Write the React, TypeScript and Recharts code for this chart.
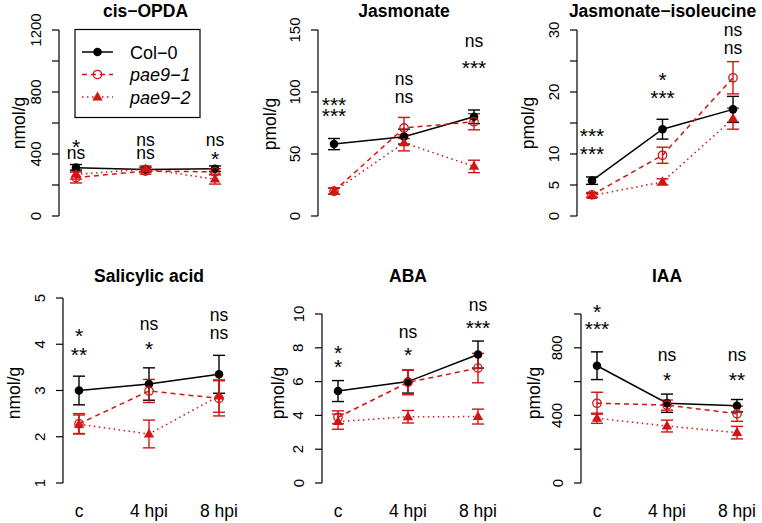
import React from 'react';
import { LineChart, Line, XAxis, YAxis, ErrorBar, ReferenceDot, Customized } from 'recharts';

const FONT = "'Liberation Sans', Arial, Helvetica, sans-serif";
const RED = '#D11414';

const times = ['c', '4 hpi', '8 hpi'];
const genotypes = ['Col−0', 'pae9−1', 'pae9−2'];

// cis-OPDA, nmol/g
const opdaCol = [312, 300, 305];
const opdaColErr = [20, 15, 18];
const opdaP1 = [248, 290, 285];
const opdaP1Err = [35, 20, 20];
const opdaP2 = [268, 303, 238];
const opdaP2Err = [30, 20, 32];
const opdaTicks = [0, 200, 400, 600, 800, 1000, 1200];
const opdaTickLabels = [0, 400, 800, 1200];
const opdaSigTop = ['*', 'ns', 'ns'];
const opdaSigTopY = [479, 479, 479];
const opdaSigBot = ['ns', 'ns', '*'];
const opdaSigBotY = [398, 398, 398];

// Jasmonate, pmol/g
const jaCol = [58, 64, 80];
const jaColErr = [4.5, 6, 5.5];
const jaP1 = [20, 71, 76];
const jaP1Err = [2.5, 8.5, 6.5];
const jaP2 = [20, 59, 40];
const jaP2Err = [2.5, 6.5, 5];
const jaTicks = [0, 50, 100, 150];
const jaSigTop = ['***', 'ns', 'ns'];
const jaSigTopY = [94, 109.7, 139.8];
const jaSigBot = ['***', 'ns', '***'];
const jaSigBotY = [84.7, 94.6, 123.6];

// Jasmonate-isoleucine, pmol/g
const ileCol = [5.7, 14.0, 17.2];
const ileColErr = [0.6, 1.6, 2.1];
const ileP1 = [3.4, 9.8, 22.3];
const ileP1Err = [0.4, 1.3, 2.6];
const ileP2 = [3.3, 5.5, 15.7];
const ileP2Err = [0.3, 0.5, 1.7];
const ileTicks = [0, 5, 10, 15, 20, 25, 30];
const ileTickLabels = [0, 5, 10, 20, 30];
const ileSigTop = ['***', '*', 'ns'];
const ileSigTopY = [13.8, 22.7, 29.8];
const ileSigBot = ['***', '***', 'ns'];
const ileSigBotY = [10.8, 19.9, 26.9];

// Salicylic acid, nmol/g
const saCol = [3.0, 3.14, 3.35];
const saColErr = [0.31, 0.35, 0.41];
const saP1 = [2.28, 2.99, 2.83];
const saP1Err = [0.22, 0.25, 0.38];
const saP2 = [2.27, 2.06, 2.88];
const saP2Err = [0.2, 0.3, 0.35];
const saTicks = [1, 2, 3, 4, 5];
const saSigTop = ['*', 'ns', 'ns'];
const saSigTopY = [4.29, 4.4, 4.61];
const saSigBot = ['**', '*', 'ns'];
const saSigBotY = [3.89, 4.0, 4.22];

// ABA, pmol/g
const abaCol = [5.44, 6.0, 7.6];
const abaColErr = [0.62, 0.68, 0.8];
const abaP1 = [3.89, 5.95, 6.8];
const abaP1Err = [0.38, 0.73, 0.87];
const abaP2 = [3.63, 3.92, 3.93];
const abaP2Err = [0.45, 0.37, 0.44];
const abaTicks = [0, 2, 4, 6, 8, 10];
const abaSigTop = ['*', 'ns', 'ns'];
const abaSigTopY = [7.97, 8.82, 10.43];
const abaSigBot = ['*', '*', '***'];
const abaSigBotY = [7.18, 7.87, 9.45];

// IAA, pmol/g
const iaaCol = [694, 472, 457];
const iaaColErr = [82, 54, 37];
const iaaP1 = [472, 461, 410];
const iaaP1Err = [65, 30, 45];
const iaaP2 = [383, 337, 298];
const iaaP2Err = [30, 35, 37];
const iaaTicks = [0, 200, 400, 600, 800, 1000];
const iaaTickLabels = [0, 400, 800];
const iaaSigTop = ['*', 'ns', 'ns'];
const iaaSigTopY = [1043, 747, 747];
const iaaSigBot = ['***', '*', '**'];
const iaaSigBotY = [941, 639, 639];

const panels = [
  { title: 'cis−OPDA', unit: 'nmol/g', col: opdaCol, colErr: opdaColErr, p1: opdaP1, p1Err: opdaP1Err, p2: opdaP2, p2Err: opdaP2Err, ticks: opdaTicks, tickLabels: opdaTickLabels, sigTop: opdaSigTop, sigTopY: opdaSigTopY, sigBot: opdaSigBot, sigBotY: opdaSigBotY },
  { title: 'Jasmonate', unit: 'pmol/g', col: jaCol, colErr: jaColErr, p1: jaP1, p1Err: jaP1Err, p2: jaP2, p2Err: jaP2Err, ticks: jaTicks, tickLabels: jaTicks, sigTop: jaSigTop, sigTopY: jaSigTopY, sigBot: jaSigBot, sigBotY: jaSigBotY },
  { title: 'Jasmonate−isoleucine', unit: 'pmol/g', col: ileCol, colErr: ileColErr, p1: ileP1, p1Err: ileP1Err, p2: ileP2, p2Err: ileP2Err, ticks: ileTicks, tickLabels: ileTickLabels, sigTop: ileSigTop, sigTopY: ileSigTopY, sigBot: ileSigBot, sigBotY: ileSigBotY },
  { title: 'Salicylic acid', unit: 'nmol/g', col: saCol, colErr: saColErr, p1: saP1, p1Err: saP1Err, p2: saP2, p2Err: saP2Err, ticks: saTicks, tickLabels: saTicks, sigTop: saSigTop, sigTopY: saSigTopY, sigBot: saSigBot, sigBotY: saSigBotY },
  { title: 'ABA', unit: 'pmol/g', col: abaCol, colErr: abaColErr, p1: abaP1, p1Err: abaP1Err, p2: abaP2, p2Err: abaP2Err, ticks: abaTicks, tickLabels: abaTicks, sigTop: abaSigTop, sigTopY: abaSigTopY, sigBot: abaSigBot, sigBotY: abaSigBotY },
  { title: 'IAA', unit: 'pmol/g', col: iaaCol, colErr: iaaColErr, p1: iaaP1, p1Err: iaaP1Err, p2: iaaP2, p2Err: iaaP2Err, ticks: iaaTicks, tickLabels: iaaTickLabels, sigTop: iaaSigTop, sigTopY: iaaSigTopY, sigBot: iaaSigBot, sigBotY: iaaSigBotY },
];

// page geometry of each panel (absolute px)
const layouts = [
  { x0: 0, y0: 0, h: 260, axisX: 59, pad: 17, right: 232, top: 30, bottom: 216, ylab: [19, 123], titleY: 16.5 },
  { x0: 254, y0: 0, h: 260, axisX: 318, pad: 16, right: 490, top: 30, bottom: 216, ylab: [270, 124], titleY: 16.5 },
  { x0: 508, y0: 0, h: 260, axisX: 577, pad: 15, right: 748, top: 30, bottom: 216, ylab: [528, 123], titleY: 16.5 },
  { x0: 0, y0: 260, h: 263, axisX: 63, pad: 16, right: 235, top: 298, bottom: 483, ylab: [14, 393], titleY: 281.5 },
  { x0: 254, y0: 260, h: 263, axisX: 322, pad: 16, right: 494, top: 314, bottom: 483, ylab: [278, 393], titleY: 281.5 },
  { x0: 508, y0: 260, h: 263, axisX: 581, pad: 16, right: 753, top: 314, bottom: 483, ylab: [534, 393], titleY: 281.5 },
];
const PANEL_W = 254;

const series = [
  { key: 'col', err: 'colErr', color: '#000', dash: undefined, marker: 'dot' },
  { key: 'p1', err: 'p1Err', color: RED, dash: '5 4', marker: 'ring' },
  { key: 'p2', err: 'p2Err', color: RED, dash: '1.5 3.5', marker: 'tri' },
];

function Marker({ cx, cy, kind, color }: any) {
  if (cx == null || cy == null) return <g />;
  if (kind === 'dot') return <circle cx={cx} cy={cy} r={4.3} fill={color} />;
  if (kind === 'ring') return <circle cx={cx} cy={cy} r={4.2} fill="none" stroke={color} strokeWidth={1.3} />;
  return <path d={`M${cx},${cy - 5.6} L${cx + 5.2},${cy + 3.4} L${cx - 5.2},${cy + 3.4} Z`} fill={color} />;
}

function SigText({ cx, cy, text }: any) {
  const stars = /^\*+$/.test(text);
  const fs = stars ? 21 : 17.5;
  const base = cy + (stars ? 0.58 : 0.26) * fs;
  return (
    <text x={cx} y={base} textAnchor="middle" fontSize={fs} fontFamily={FONT} fill="#000">
      {text}
    </text>
  );
}

function YTick({ x, y, payload, labels }: any) {
  if (!labels.includes(payload.value)) return <g />;
  const lx = x - 15;
  return (
    <text x={lx} y={y} transform={`rotate(-90 ${lx} ${y})`} textAnchor="middle" dominantBaseline="central"
      fontSize={15} fontFamily={FONT} fill="#000">
      {payload.value}
    </text>
  );
}

function Legend() {
  const rows = [52, 74.5, 97];
  return (
    <g>
      <rect x={75} y={29.5} width={125} height={88} fill="#fff" stroke="#000" strokeWidth={1.2} />
      {series.map((s, i) => (
        <g key={s.key}>
          <line x1={82} x2={113} y1={rows[i]} y2={rows[i]} stroke={s.color} strokeWidth={1.5} strokeDasharray={s.dash} />
          <Marker cx={97.5} cy={rows[i]} kind={s.marker} color={s.color} />
          <text x={130} y={rows[i] + 6.5} fontSize={18} fontFamily={FONT} fontStyle={i === 0 ? 'normal' : 'italic'} fill="#000">
            {genotypes[i]}
          </text>
        </g>
      ))}
    </g>
  );
}

function Panel({ idx }: { idx: number }) {
  const p = panels[idx];
  const L = layouts[idx];
  const isBottom = idx >= 3;
  const data = times.map((t, i) => ({
    t,
    col: p.col[i], colErr: p.colErr[i],
    p1: p.p1[i], p1Err: p.p1Err[i],
    p2: p.p2[i], p2Err: p.p2Err[i],
  }));
  const xAxisH = L.y0 + L.h - L.bottom;
  const midX = (L.axisX + L.pad + L.right - L.pad) / 2;
  const deco = () => (
    <g>
      <text x={midX - L.x0} y={L.titleY - L.y0} textAnchor="middle" fontSize={17.5} fontWeight="bold" fontFamily={FONT} fill="#000">
        {p.title}
      </text>
      <text x={L.ylab[0] - L.x0} y={L.ylab[1] - L.y0} transform={`rotate(-90 ${L.ylab[0] - L.x0} ${L.ylab[1] - L.y0})`}
        textAnchor="middle" dominantBaseline="central" fontSize={17.5} fontFamily={FONT} fill="#000">
        {p.unit}
      </text>
      {idx === 0 && <Legend />}
    </g>
  );
  return (
    <div style={{ position: 'absolute', left: L.x0, top: L.y0 }}>
      <LineChart
        width={PANEL_W}
        height={L.h}
        data={data}
        margin={{ top: L.top - L.y0, right: L.x0 + PANEL_W - L.right, left: 0, bottom: isBottom ? 0 : xAxisH }}
      >
        <XAxis
          dataKey="t"
          hide={!isBottom}
          height={xAxisH}
          padding={{ left: L.pad, right: L.pad }}
          axisLine={false}
          tickLine={false}
          interval={0}
          tick={(tp: any) => (
            <text x={tp.x} y={516.5 - L.y0} textAnchor="middle" fontSize={17.5} fontFamily={FONT} fill="#000">
              {tp.payload.value}
            </text>
          )}
        />
        <YAxis
          width={L.axisX - L.x0}
          domain={[p.ticks[0], p.ticks[p.ticks.length - 1]]}
          ticks={p.ticks}
          interval={0}
          tickSize={7}
          tickMargin={2}
          stroke="#000"
          strokeWidth={1.2}
          tick={(tp: any) => <YTick {...tp} labels={p.tickLabels} />}
        />
        {series.map((s) => (
          <Line
            key={s.key}
            dataKey={s.key}
            stroke={s.color}
            strokeWidth={1.5}
            strokeDasharray={s.dash}
            isAnimationActive={false}
            dot={(dp: any) => <Marker key={`${s.key}-${dp.index}`} cx={dp.cx} cy={dp.cy} kind={s.marker} color={s.color} />}
            activeDot={false}
          >
            <ErrorBar dataKey={s.err} width={6} stroke={s.color} strokeWidth={1.4} isAnimationActive={false} />
          </Line>
        ))}
        {p.sigTop.map((txt, i) => (
          <ReferenceDot key={`t${i}`} x={times[i]} y={p.sigTopY[i]} r={0} ifOverflow="visible"
            shape={(rp: any) => <SigText cx={rp.cx} cy={rp.cy} text={txt} />} />
        ))}
        {p.sigBot.map((txt, i) => (
          <ReferenceDot key={`b${i}`} x={times[i]} y={p.sigBotY[i]} r={0} ifOverflow="visible"
            shape={(rp: any) => <SigText cx={rp.cx} cy={rp.cy} text={txt} />} />
        ))}
        <Customized component={deco} />
      </LineChart>
    </div>
  );
}

export default function App() {
  return (
    <div style={{ position: 'absolute', left: 0, top: 0, width: 762, height: 523, background: '#fff', fontFamily: FONT }}>
      {panels.map((_, i) => (
        <Panel key={i} idx={i} />
      ))}
    </div>
  );
}
